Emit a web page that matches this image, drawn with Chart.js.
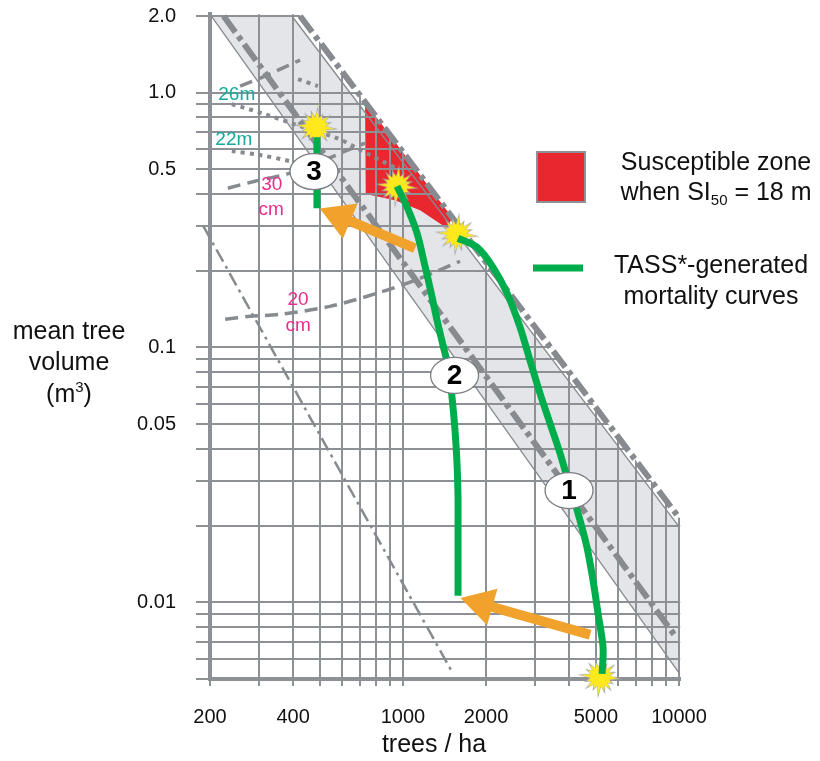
<!DOCTYPE html>
<html><head><meta charset="utf-8">
<script src="https://cdn.jsdelivr.net/npm/chart.js@4/dist/chart.umd.min.js"></script>
<style>
html,body{margin:0;padding:0;background:#fff;}
#wrap{position:relative;width:820px;height:761px;}
#wrap canvas{position:absolute;left:0;top:0;}
</style>
</head><body>
<div id="wrap"><canvas id="base" width="820" height="761"></canvas><canvas id="over" width="820" height="761"></canvas></div>
<script>
// ---------------- DATA ----------------
const xTicks = [200,300,400,500,600,700,800,900,1000,2000,3000,4000,5000,6000,7000,8000,9000,10000];
const xTickLabels = ['200','','400','','','','','','1000','2000','','','5000','','','','','10000'];
const yTicks = [0.005,0.006,0.007,0.008,0.009,0.01,0.02,0.03,0.04,0.05,0.06,0.07,0.08,0.09,0.1,0.2,0.3,0.4,0.5,0.6,0.7,0.8,0.9,1.0,2.0];
const yTickLabels = ['','','','','','0.01','','','','0.05','','','','','0.1','','','','0.5','','','','','1.0','2.0'];

// grey band between the two density-management limit lines
const bandDensity = [202, 10000, 10000, 396];
const bandVolume  = [2.0, 0.00529, 0.01982, 2.0];
// susceptible zone (SI50 = 18 m)
const zoneDensity = [729, 733, 936, 1153, 1444, 1510];
const zoneVolume  = [0.919, 0.400, 0.378, 0.346, 0.294, 0.3236];
// band edges (thin)
const upperEdgeDensity = [396, 10000];  const upperEdgeVolume = [2.0, 0.01982];
const lowerEdgeDensity = [202, 10000];  const lowerEdgeVolume = [2.0, 0.00529];
// thick dash-dot limit lines
const maxLineDensity = [424, 10000];    const maxLineVolume = [2.0, 0.0215];
const lowLineDensity = [224, 9820];     const lowLineVolume = [2.0, 0.00722];
// thin dash-dot line lower left
const closureDensity = [189, 1517];     const closureVolume = [0.30, 0.00526];
// diameter lines (dashed)
const d20Density = [227, 279, 359, 544, 826, 1153, 1610];
const d20Volume  = [0.129, 0.1325, 0.135, 0.145, 0.1646, 0.1869, 0.218];
const d30Density = [232, 291, 390, 501, 617, 729];
const d30Volume  = [0.4219, 0.4494, 0.4832, 0.5338, 0.5896, 0.634];
const d40Density = [257, 316, 424];
const d40Volume  = [1.062, 1.162, 1.343];
// height lines (dotted)
const h26Density = [240, 316, 424, 577, 760, 976];
const h26Volume  = [0.902, 0.824, 0.739, 0.663, 0.569, 0.4965];
const h22Density = [240, 304, 390, 430];
const h22Volume  = [0.590, 0.569, 0.5386, 0.52];
const h30Density = [417, 492];
const h30Volume  = [1.131, 1.062];
// TASS mortality curves
const curve1Density = [1583,1855,2120,2384,2657,2886,3138,3412,3708,3964,4309,4644,4884,5092,5309,5265];
const curve1Volume  = [0.2684,0.2474,0.2064,0.1631,0.1200,0.0890,0.0660,0.0503,0.0384,0.0300,0.0223,0.01639,0.01216,0.00902,0.00663,0.00524];
const curve2Density = [952,1035,1125,1193,1264,1329,1397,1468,1506,1544,1570,1583,1583,1583,1583];
const curve2Volume  = [0.4295,0.3553,0.2808,0.2160,0.1646,0.1278,0.1019,0.0813,0.0637,0.0472,0.0350,0.0258,0.0191,0.01418,0.01062];
const curve3Density = [488, 488];
const curve3Volume  = [0.352, 0.669];
// starbursts
const starDensity = [484, 952, 1570, 5176];
const starVolume  = [0.733, 0.4295, 0.2782, 0.0051];
// arrows (tail -> head)
const arrowTailDensity = [4764, 1106];
const arrowTailVolume  = [0.00746, 0.2452];
const arrowHeadDensity = [1929, 592];
const arrowHeadVolume  = [0.00985, 0.3254];
// numbered markers
const markerLabels  = ['1', '2', '3'];
const markerDensity = [3996, 1538, 476];
const markerVolume  = [0.02745, 0.0777, 0.490];
// line labels
const noteTexts   = ['26m', '22m', '30', 'cm', '20', 'cm'];
const noteKinds   = ['height', 'height', 'diam', 'diam', 'diam', 'diam'];
const noteDensity = [250, 244, 335, 333, 417, 417];
const noteVolume  = [0.979, 0.652, 0.437, 0.346, 0.1545, 0.1221];

// ---------------- STYLE ----------------
const FONT = '"Liberation Sans", Arial, Helvetica, sans-serif';
const GRID = '#8d9196';
const LGRAY = '#878a8f';
const BAND = '#e4e5e9';
const RED = '#e8282e';
const GREEN = '#00ad4c';
const ORANGE = '#f0a22c';
const noteColors = {height: '#16a89c', diam: '#ea2d8c'};

const pts = (xs, ys) => xs.map((x, i) => ({x, y: ys[i]}));

function makeStar() {
  const c = document.createElement('canvas');
  c.width = 50; c.height = 50;
  const g = c.getContext('2d');
  g.translate(25, 25);
  const outer = [22,16,20,17,23,16,19,18,22,16,20,17,23,17,19,18];
  const n = outer.length;
  g.beginPath();
  for (let i = 0; i < n * 2; i++) {
    const a = i * Math.PI / n + 0.1;
    const r = i % 2 === 0 ? outer[i / 2] : 10;
    g.lineTo(r * Math.sin(a), -r * Math.cos(a));
  }
  g.closePath(); g.fillStyle = '#a3a5a8'; g.fill();
  g.beginPath();
  for (let i = 0; i < n * 2; i++) {
    const a = i * Math.PI / n + 0.1;
    const r = i % 2 === 0 ? outer[i / 2] * 0.8 : 9.5;
    g.lineTo(r * Math.sin(a), -r * Math.cos(a));
  }
  g.closePath(); g.fillStyle = '#ffe81c'; g.fill();
  return c;
}
const STAR = makeStar();

function noPad(s) { s.paddingTop = 0; s.paddingBottom = 0; s.paddingLeft = 0; s.paddingRight = 0; }
function scalesConfig(visible) {
  return {
    x: {
      type: 'logarithmic', min: 200, max: 10100,
      afterBuildTicks: s => { s.ticks = xTicks.map(v => ({value: v})); },
      afterFit: s => { s.height = 82; noPad(s); },
      ticks: {display: visible, autoSkip: false, maxRotation: 0, minRotation: 0, padding: 19,
              color: '#111', font: {family: FONT, size: 20}, callback: (v, i) => xTickLabels[i]},
      grid: {display: visible, color: GRID, lineWidth: 2, tickLength: 7, z: 1},
      border: {display: visible, color: GRID, width: 4, z: 1}
    },
    y: {
      type: 'logarithmic', min: 0.005, max: 2.03,
      afterBuildTicks: s => { s.ticks = yTicks.map(v => ({value: v})); },
      afterFit: s => { s.width = 210; noPad(s); },
      ticks: {display: visible, autoSkip: false, padding: 20,
              color: '#111', font: {family: FONT, size: 20}, callback: (v, i) => yTickLabels[i]},
      grid: {display: visible, color: GRID, lineWidth: 2, tickLength: 14, z: 1},
      border: {display: visible, color: GRID, width: 4, z: 1}
    }
  };
}
const commonOpts = (visible) => ({
  responsive: false, animation: false, devicePixelRatio: 1, events: [],
  layout: {autoPadding: false, padding: {left: 0, right: 139.8, top: 14.35, bottom: 0}},
  scales: scalesConfig(visible),
  plugins: {legend: {display: false}, tooltip: {enabled: false}}
});

function lineDs(xs, ys, style, order) {
  return Object.assign({data: pts(xs, ys), showLine: true, pointRadius: 0, pointHoverRadius: 0,
                        fill: false, borderColor: LGRAY, borderWidth: 2, order: order}, style);
}
function shapeDs(xs, ys, color, order) {
  return {data: pts(xs, ys), showLine: true, fill: 'shape', backgroundColor: color,
          borderColor: 'rgba(0,0,0,0)', pointRadius: 0, order: order};
}

// ---------------- BASE CHART (fills under the grid) ----------------
new Chart(document.getElementById('base'), {
  type: 'scatter',
  data: {datasets: [
    shapeDs(bandDensity, bandVolume, BAND, 2),
    shapeDs(zoneDensity, zoneVolume, RED, 1)
  ]},
  options: commonOpts(true)
});

// ---------------- OVERLAY CHART ----------------
function arrowRotation(c) {
  if (c.dataIndex === undefined || !c.chart.scales || !c.chart.scales.x) return 0;
  const xs = c.chart.scales.x, ys = c.chart.scales.y, i = c.dataIndex;
  const dx = xs.getPixelForValue(arrowHeadDensity[i]) - xs.getPixelForValue(arrowTailDensity[i]);
  const dy = ys.getPixelForValue(arrowHeadVolume[i]) - ys.getPixelForValue(arrowTailVolume[i]);
  return Math.atan2(dx, -dy) * 180 / Math.PI;
}

const overlayPlugin = {
  id: 'overlayText',
  afterDatasetsDraw(chart) {
    const {ctx} = chart;
    const xs = chart.scales.x, ys = chart.scales.y;
    ctx.save();
    ctx.textAlign = 'center';
    ctx.textBaseline = 'middle';
    ctx.font = `19px ${FONT}`;
    noteTexts.forEach((t, i) => {
      ctx.fillStyle = noteColors[noteKinds[i]];
      ctx.fillText(t, xs.getPixelForValue(noteDensity[i]), ys.getPixelForValue(noteVolume[i]));
    });
    markerLabels.forEach((t, i) => {
      const px = xs.getPixelForValue(markerDensity[i]);
      const py = ys.getPixelForValue(markerVolume[i]);
      ctx.beginPath();
      ctx.ellipse(px, py, 24, 18, 0, 0, Math.PI * 2);
      ctx.fillStyle = '#fff'; ctx.fill();
      ctx.lineWidth = 1.3; ctx.strokeStyle = '#7b7e83'; ctx.stroke();
      ctx.fillStyle = '#000';
      ctx.font = `bold 28px ${FONT}`;
      ctx.fillText(t, px, py + 1);
    });
    ctx.restore();
  },
  afterDraw(chart) {
    const {ctx} = chart;
    ctx.save();
    ctx.beginPath();
    ctx.fillStyle = RED;
    ctx.fillRect(537, 152, 48, 50);
    ctx.strokeStyle = GRID; ctx.lineWidth = 2;
    ctx.strokeRect(537, 152, 48, 50);
    ctx.beginPath();
    ctx.strokeStyle = GREEN; ctx.lineWidth = 7;
    ctx.moveTo(533, 268); ctx.lineTo(583, 268); ctx.stroke();
    ctx.fillStyle = '#111';
    ctx.textBaseline = 'middle';
    ctx.textAlign = 'center';
    ctx.font = `25px ${FONT}`;
    ctx.fillText('Susceptible zone', 716, 163);
    ctx.fillText('TASS*-generated', 711, 266);
    ctx.fillText('mortality curves', 711, 297);
    const big = `25px ${FONT}`, small = `15px ${FONT}`;
    const p1 = 'when SI', p2 = '50', p3 = ' = 18 m';
    ctx.font = big; const w1 = ctx.measureText(p1).width, w3 = ctx.measureText(p3).width;
    ctx.font = small; const w2 = ctx.measureText(p2).width;
    let sx = 716 - (w1 + w2 + w3) / 2;
    ctx.textAlign = 'left';
    ctx.font = big; ctx.fillText(p1, sx, 193); sx += w1;
    ctx.font = small; ctx.fillText(p2, sx, 201); sx += w2;
    ctx.font = big; ctx.fillText(p3, sx, 193);
    ctx.textAlign = 'center';
    ctx.font = big;
    ctx.fillText('trees / ha', 434, 745);
    ctx.fillText('mean tree', 69, 332);
    ctx.fillText('volume', 69, 363);
    const q1 = '(m', q2 = '3', q3 = ')';
    ctx.font = big; const a1 = ctx.measureText(q1).width, a3 = ctx.measureText(q3).width;
    ctx.font = small; const a2 = ctx.measureText(q2).width;
    let qx = 69 - (a1 + a2 + a3) / 2;
    ctx.textAlign = 'left';
    ctx.font = big; ctx.fillText(q1, qx, 395); qx += a1;
    ctx.font = small; ctx.fillText(q2, qx, 388); qx += a2;
    ctx.font = big; ctx.fillText(q3, qx, 395);
    ctx.restore();
  }
};

const thickDashDot = {borderWidth: 6, borderDash: [20, 5, 5, 5], borderColor: LGRAY};
const dashed = {borderWidth: 3.5, borderDash: [13, 7], borderColor: LGRAY, tension: 0.3};
const dotted = {borderWidth: 4, borderDash: [4, 5], borderColor: LGRAY, tension: 0.3};
const greenStyle = {borderWidth: 7, borderColor: GREEN, tension: 0.3, borderCapStyle: 'butt'};

new Chart(document.getElementById('over'), {
  type: 'scatter',
  data: {datasets: [
    // white mask beyond the maximum-density line (no grid there)
    shapeDs([424, 10000, 30000, 30000, 424], [2.0, 0.0215, 0.0215, 5, 5], '#ffffff', 100),
    {data: pts([424, 10100, 10100], [2.0, 2.0, 0.0215]), showLine: true, pointRadius: 0, borderWidth: 6, borderColor: '#ffffff', clip: false, order: 99},
    lineDs(upperEdgeDensity, upperEdgeVolume, {borderWidth: 1.3}, 90),
    lineDs(lowerEdgeDensity, lowerEdgeVolume, {borderWidth: 1.3}, 90),
    lineDs(closureDensity, closureVolume, {borderWidth: 2.5, borderDash: [14, 5, 3, 5], clip: false}, 85),
    lineDs(d20Density, d20Volume, dashed, 80),
    lineDs(d30Density, d30Volume, dashed, 80),
    lineDs(d40Density, d40Volume, dashed, 80),
    lineDs(h26Density, h26Volume, dotted, 80),
    lineDs(h22Density, h22Volume, dotted, 80),
    lineDs(h30Density, h30Volume, dotted, 80),
    lineDs(maxLineDensity, maxLineVolume, thickDashDot, 70),
    lineDs(lowLineDensity, lowLineVolume, thickDashDot, 70),
    {data: pts(starDensity, starVolume), pointStyle: STAR, pointRadius: 12, clip: false, order: 60},
    lineDs([arrowTailDensity[0], arrowHeadDensity[0]], [arrowTailVolume[0], arrowHeadVolume[0]], {borderWidth: 10, borderColor: ORANGE}, 50),
    lineDs([arrowTailDensity[1], arrowHeadDensity[1]], [arrowTailVolume[1], arrowHeadVolume[1]], {borderWidth: 10, borderColor: ORANGE}, 50),
    {data: pts(arrowHeadDensity, arrowHeadVolume), pointStyle: 'triangle', pointRadius: 22,
     pointBackgroundColor: ORANGE, pointBorderWidth: 0, pointRotation: arrowRotation, clip: false, order: 49},
    lineDs(curve1Density, curve1Volume, greenStyle, 40),
    lineDs(curve2Density, curve2Volume, greenStyle, 40),
    lineDs(curve3Density, curve3Volume, greenStyle, 40)
  ]},
  options: commonOpts(false),
  plugins: [overlayPlugin]
});
</script>
</body></html>
